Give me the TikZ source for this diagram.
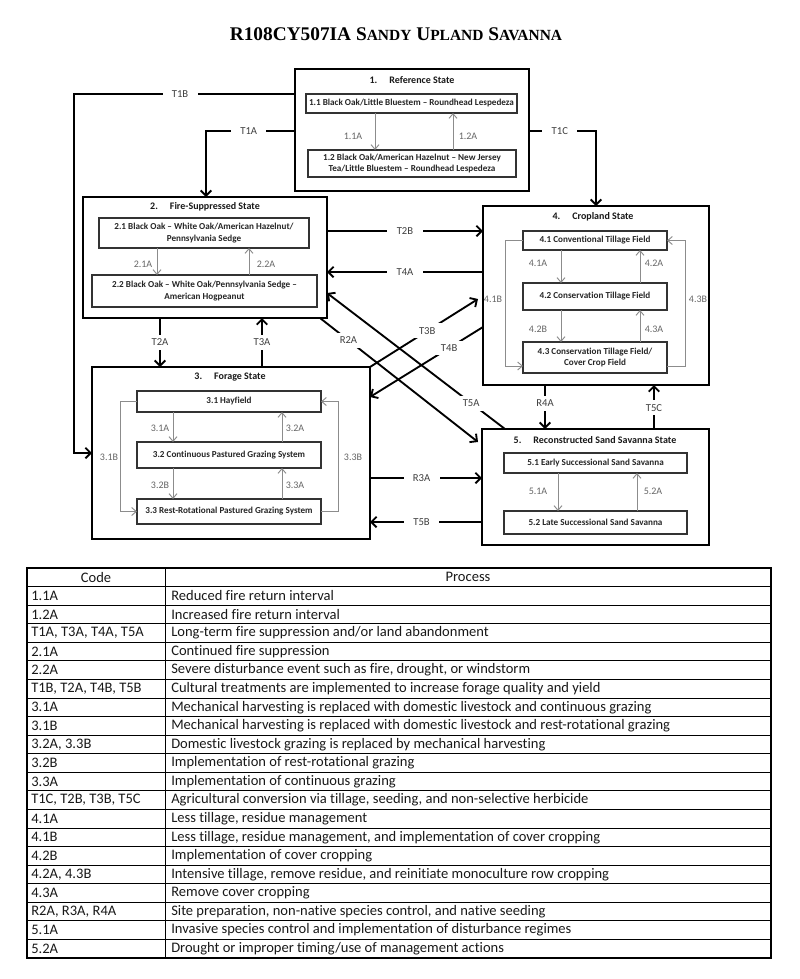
\documentclass[tikz,border=0pt]{standalone}
\usepackage{fontspec}
\setmainfont{Carlito}[Ligatures=NoCommon]
\newfontfamily\titlefont{Liberation Serif}
\usetikzlibrary{arrows.meta,calc}
\begin{document}
\begin{tikzpicture}[x=0.75pt,y=-0.75pt,
  sz/.style 2 args={minimum width={#1*0.75pt}, minimum height={#2*0.75pt}},
  state/.style={draw=black, line width=1.5pt, inner sep=0pt, outer sep=0pt},
  inbox/.style={draw=black!80, line width=0.9pt, fill=white, inner sep=0pt, outer sep=0pt,
    font=\fontsize{6.85}{8.8}\selectfont\bfseries, align=center, text=black!85},
  stitle/.style={font=\fontsize{7.5}{9}\selectfont\bfseries, text=black!90},
  garrow/.style={draw=black!45, line width=0.7pt, -{Straight Barb[length=3.5pt,width=6pt]}},
  glabel/.style={font=\fontsize{7.5}{9}\selectfont, text=black!60, inner sep=1pt},
  tarrow/.style={line width=1.4pt, -{Straight Barb[length=4pt,width=8pt]}},
  tlabel/.style={font=\fontsize{8}{9}\selectfont, text=black!75, fill=white, inner xsep=7pt, inner ysep=3pt},
  tcell/.style={font=\fontsize{10.9}{12}\selectfont, text=black!90, inner sep=0pt}
]
\useasboundingbox (0,0) rectangle (800,979);
\fill[white] (0,0) rectangle (800,979);

% title
\node (title) at (396,34) {\titlefont\bfseries\fontsize{14.5}{16}\selectfont R108CY507IA S{\fontsize{11.6}{13}\selectfont ANDY} U{\fontsize{11.6}{13}\selectfont PLAND} S{\fontsize{11.6}{13}\selectfont AVANNA}};

% state boxes
\node[state, sz={234}{122}] (S1) at (412,130) {};
\node[state, sz={244}{121}] (S2) at (205,257.5) {};
\node[state, sz={278}{172}] (S3) at (231,453) {};
\node[state, sz={226}{179}] (S4) at (596,295.5) {};
\node[state, sz={227}{116}] (S5) at (595.5,487) {};

% state titles
\node[stitle] (S1t) at (412,80) {1.\hspace{9pt}Reference State};
\node[stitle] (S2t) at (205,207) {2.\hspace{9pt}Fire-Suppressed State};
\node[stitle] (S3t) at (230,377) {3.\hspace{9pt}Forage State};
\node[stitle] (S4t) at (593,217) {4.\hspace{9pt}Cropland State};
\node[stitle] (S5t) at (595,440) {5.\hspace{9pt}Reconstructed Sand Savanna State};

% community boxes
\node[inbox, sz={211}{19}] (b11) at (411.5,103.5) {1.1 Black Oak/Little Bluestem – Roundhead Lespedeza};
\node[inbox, sz={208}{27}] (b12) at (412,163.5) {1.2 Black Oak/American Hazelnut – New Jersey\\Tea/Little Bluestem – Roundhead Lespedeza};
\node[inbox, sz={210}{30}] (b21) at (204,233) {2.1 Black Oak – White Oak/American Hazelnut/\\Pennsylvania Sedge};
\node[inbox, sz={225}{32}] (b22) at (204.5,291) {2.2 Black Oak – White Oak/Pennsylvania Sedge –\\American Hogpeanut};
\node[inbox, sz={184}{21}] (b31) at (229,401.5) {3.1 Hayfield};
\node[inbox, sz={184}{26}] (b32) at (229,455) {3.2 Continuous Pastured Grazing System};
\node[inbox, sz={184}{25}] (b33) at (229,511.5) {3.3 Rest-Rotational Pastured Grazing System};
\node[inbox, sz={144}{19}] (b41) at (595,240.5) {4.1 Conventional Tillage Field};
\node[inbox, sz={144}{27}] (b42) at (595,296.5) {4.2 Conservation Tillage Field};
\node[inbox, sz={144}{31}] (b43) at (595,357.5) {4.3 Conservation Tillage Field/\\Cover Crop Field};
\node[inbox, sz={183}{20}] (b51) at (595.5,463) {5.1 Early Successional Sand Savanna};
\node[inbox, sz={183}{23}] (b52) at (595.5,522.5) {5.2 Late Successional Sand Savanna};

% community pathways
\draw[garrow] (b11.south -| 375,0) -- (b12.north -| 375,0);
\draw[garrow] (b12.north -| 453,0) -- (b11.south -| 453,0);
\draw[garrow] (b21.south -| 157,0) -- (b22.north -| 157,0);
\draw[garrow] (b22.north -| 249,0) -- (b21.south -| 249,0);
\draw[garrow] (b31.south -| 173,0) -- (b32.north -| 173,0);
\draw[garrow] (b32.north -| 282,0) -- (b31.south -| 282,0);
\draw[garrow] (b32.south -| 173,0) -- (b33.north -| 173,0);
\draw[garrow] (b33.north -| 282,0) -- (b32.south -| 282,0);
\draw[garrow] (b31.west) -| (120,511.5) -- (b33.west);
\draw[garrow] (b33.east) -| (338,401.5) -- (b31.east);
\draw[garrow] (b41.south -| 561,0) -- (b42.north -| 561,0);
\draw[garrow] (b42.north -| 640,0) -- (b41.south -| 640,0);
\draw[garrow] (b42.south -| 561,0) -- (b43.north -| 561,0);
\draw[garrow] (b43.north -| 640,0) -- (b42.south -| 640,0);
\draw[garrow] (b41.west) -| (505,366) -- (b43.west |- 0,366);
\draw[garrow] (b43.east |- 0,366) -| (685,240.5) -- (b41.east);
\draw[garrow] (b51.south -| 558,0) -- (b52.north -| 558,0);
\draw[garrow] (b52.north -| 637,0) -- (b51.south -| 637,0);

% community pathway labels
\node[glabel] (l11a) at (353,136) {1.1A};
\node[glabel] (l12a) at (468,136) {1.2A};
\node[glabel] (l21a) at (143,264) {2.1A};
\node[glabel] (l22a) at (266,264) {2.2A};
\node[glabel] (l31a) at (160,428) {3.1A};
\node[glabel] (l32a) at (295,428) {3.2A};
\node[glabel] (l32b) at (160,485) {3.2B};
\node[glabel] (l33a) at (295,485) {3.3A};
\node[glabel] (l31b) at (109,457) {3.1B};
\node[glabel] (l33b) at (353,457) {3.3B};
\node[glabel] (l41a) at (538,263) {4.1A};
\node[glabel] (l42a) at (654,263) {4.2A};
\node[glabel] (l42b) at (538,329) {4.2B};
\node[glabel] (l43a) at (654,329) {4.3A};
\node[glabel] (l41b) at (493,299) {4.1B};
\node[glabel] (l43b) at (698,299) {4.3B};
\node[glabel] (l51a) at (538,491) {5.1A};
\node[glabel] (l52a) at (653,491) {5.2A};

% transitions
\coordinate (k1b) at (74,94);
\coordinate (k1a) at (206,131);
\coordinate (k1c) at (596,131);
\draw[tarrow] (S1.west |- 0,94) -- node[tlabel,pos=0.52]{T1B} (k1b) |- (S3.west);
\draw[tarrow] (S1.west |- 0,131) -- node[tlabel,pos=0.52]{T1A} (k1a) -- (k1a |- S2.north);
\draw[tarrow] (S1.east |- 0,131) -- node[tlabel,pos=0.46]{T1C} (k1c) -- (k1c |- S4.north);
\draw[tarrow] (S2.east |- 0,231) -- node[tlabel]{T2B} (S4.west |- 0,231);
\draw[tarrow] (S4.west |- 0,272) -- node[tlabel]{T4A} (S2.east |- 0,272);
\draw[tarrow] (S2.south -| 160,0) -- node[tlabel]{T2A} (S3.north -| 160,0);
\draw[tarrow] (S3.north -| 262,0) -- node[tlabel]{T3A} (S2.south -| 262,0);
\draw[tarrow] (S4.south -| 545,0) -- node[tlabel,pos=0.42]{R4A} (S5.north -| 545,0);
\draw[tarrow] (S5.north -| 654,0) -- node[tlabel,pos=0.48]{T5C} (S4.south -| 654,0);
\draw[tarrow] (S3.east |- 0,478) -- node[tlabel,pos=0.46]{R3A} (S5.west |- 0,478);
\draw[tarrow] (S5.west |- 0,522) -- node[tlabel,pos=0.54]{T5B} (S3.east |- 0,522);

\coordinate (r2aS) at (S2.south -| 320,0);
\coordinate (r2aE) at (478,442);
\coordinate (t5aS) at (S5.north -| 505,0);
\coordinate (t5aE) at (S2.east |- 0,293);
\coordinate (t3bS) at (S3.north east);
\coordinate (t3bE) at (478,299);
\coordinate (t4bS) at (S4.west |- 0,327);
\coordinate (t4bE) at (S3.east |- 0,397);
\draw[tarrow] (r2aS) -- node[tlabel,pos=0.18]{R2A} (r2aE);
\draw[tarrow] (t5aS) -- node[tlabel,pos=0.19]{T5A} (t5aE);
\draw[tarrow] (t3bS) -- node[tlabel,pos=0.53]{T3B} (t3bE);
\draw[tarrow] (t4bS) -- node[tlabel,pos=0.30]{T4B} (t4bE);

% table
\def\rh{18.57}
\draw[line width=0.8pt] (27,568) rectangle (771,958);
\foreach \k in {1,...,20} \draw[line width=0.6pt] (27,{568+\rh*\k}) -- (771,{568+\rh*\k});
\draw[line width=0.6pt] (165,568) -- (165,958);
\node[tcell] (hcode) at (96,{568+\rh*0.5}) {Code};
\node[tcell] (hproc) at (468,{568+\rh*0.5}) {Process};
\foreach [count=\i] \c/\p in {
 {1.1A}/{Reduced fire return interval},
 {1.2A}/{Increased fire return interval},
 {T1A, T3A, T4A, T5A}/{Long-term fire suppression and/or land abandonment},
 {2.1A}/{Continued fire suppression},
 {2.2A}/{Severe disturbance event such as fire, drought, or windstorm},
 {T1B, T2A, T4B, T5B}/{Cultural treatments are implemented to increase forage quality and yield},
 {3.1A}/{Mechanical harvesting is replaced with domestic livestock and continuous grazing},
 {3.1B}/{Mechanical harvesting is replaced with domestic livestock and rest-rotational grazing},
 {3.2A, 3.3B}/{Domestic livestock grazing is replaced by mechanical harvesting},
 {3.2B}/{Implementation of rest-rotational grazing},
 {3.3A}/{Implementation of continuous grazing},
 {T1C, T2B, T3B, T5C}/{Agricultural conversion via tillage, seeding, and non-selective herbicide},
 {4.1A}/{Less tillage, residue management},
 {4.1B}/{Less tillage, residue management, and implementation of cover cropping},
 {4.2B}/{Implementation of cover cropping},
 {4.2A, 4.3B}/{Intensive tillage, remove residue, and reinitiate monoculture row cropping},
 {4.3A}/{Remove cover cropping},
 {R2A, R3A, R4A}/{Site preparation, non-native species control, and native seeding},
 {5.1A}/{Invasive species control and implementation of disturbance regimes},
 {5.2A}/{Drought or improper timing/use of management actions}} {
  \node[tcell, anchor=west] (c\i) at (31,{568+\rh*(\i+0.5)}) {\c};
  \node[tcell, anchor=west] (p\i) at (171,{568+\rh*(\i+0.5)}) {\p};
}
\end{tikzpicture}
\end{document}
